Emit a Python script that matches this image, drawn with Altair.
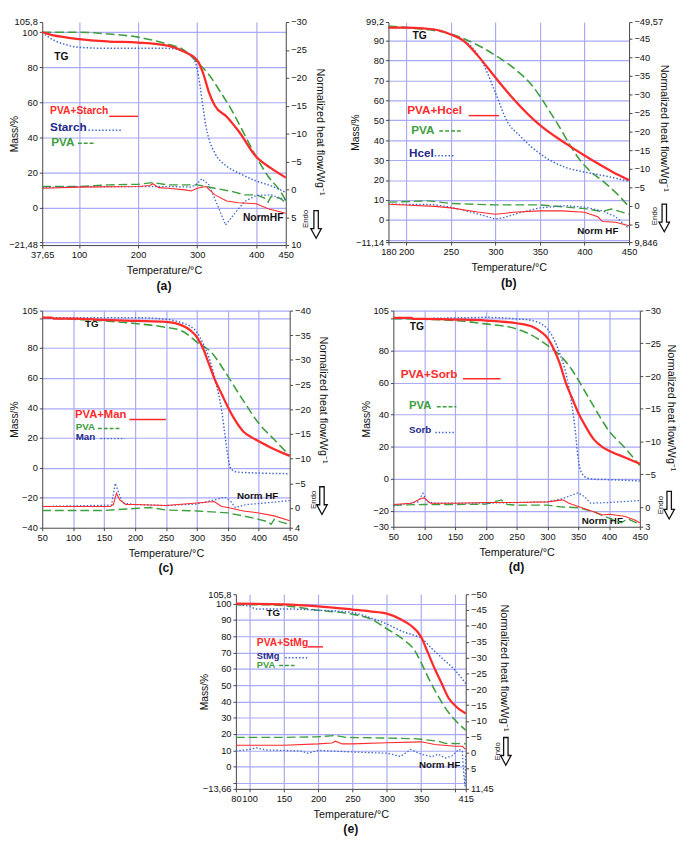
import altair as alt
import pandas as pd

# ---------------- data ----------------
# (a) PVA+Starch / Starch / PVA
A_RED_T = [37.65, 50, 57, 75, 100, 150, 200, 250, 280, 300, 310, 320, 330, 350, 370, 400, 425, 450]
A_RED_M = [100, 98.8, 98.2, 97.2, 96, 94.7, 94.1, 92.3, 88.6, 84, 76.7, 65.6, 58, 51.8, 43.6, 28.9, 22.4, 17]
A_BLUE_T = [37.65, 45, 50, 60, 75, 100, 150, 200, 250, 275, 290, 295, 300, 305, 310, 315, 320, 330, 350, 370, 400, 425, 450]
A_BLUE_M = [100, 98, 96.9, 95, 93.2, 91.4, 90.8, 90.8, 90.8, 89.5, 86.8, 84.5, 79, 69, 57, 46, 39, 31, 23.5, 19.7, 15.1, 12.3, 8.6]
A_GREEN_T = [37.65, 100, 150, 200, 250, 275, 300, 320, 340, 360, 380, 400, 420, 440, 450]
A_GREEN_M = [100, 100, 99, 97.2, 93.2, 90.4, 83, 75.7, 65.6, 54.6, 41.7, 28.9, 17.8, 9.6, 4]
A_RED_HF_T = [37.65, 100, 200, 220, 225, 235, 250, 280, 290, 300, 315, 330, 350, 370, 400, 420, 450]
A_RED_HF = [-0.2, -0.4, -0.5, -0.7, -1.0, -0.3, -0.2, 0.1, 0.3, -0.2, -0.5, 1.0, 2.1, 2.4, 2.6, 3.5, 4.3]
A_BLUE_HF_T = [37.65, 100, 200, 250, 290, 300, 308, 320, 335, 348, 360, 380, 400, 425, 450]
A_BLUE_HF = [-0.3, -0.5, -0.5, -0.5, -0.4, -1.0, -1.9, -0.8, 3.0, 6.4, 4.8, 2.2, 1.1, 1.0, 1.9]
A_GREEN_HF_T = [37.65, 100, 150, 200, 225, 250, 300, 330, 360, 380, 400, 415, 420, 425, 440, 450]
A_GREEN_HF = [-0.5, -0.5, -0.8, -0.9, -1.2, -0.8, -0.8, -0.2, 0.4, 1.0, 1.0, 1.6, 2.3, 1.3, 1.6, 2.4]

# (b) PVA+Hcel / Hcel / PVA
B_RED_T = [180, 200, 230, 250, 265, 280, 300, 320, 350, 380, 400, 416, 431, 450]
B_RED_M = [96.4, 96.4, 95.6, 93.0, 89.5, 82.5, 71.4, 60.8, 47.5, 38, 32.3, 28, 24.2, 20]
B_BLUE_T = [180, 200, 230, 250, 262, 273, 287, 300, 313, 328, 350, 379, 400, 427, 450]
B_BLUE_M = [96.4, 96.4, 95.6, 93.0, 90.5, 86.9, 77.6, 63.8, 49.6, 41.9, 33.2, 26.3, 24, 21.7, 19.3]
B_GREEN_T = [180, 200, 250, 275, 300, 325, 340, 350, 360, 372, 383, 394, 405, 423, 438, 450]
B_GREEN_M = [97.2, 96.4, 93.2, 88.8, 82.5, 74.5, 68, 62, 55, 46.5, 38, 30.5, 25, 18.6, 12.4, 6.5]
B_RED_HF_T = [180, 232, 250, 280, 300, 320, 350, 375, 400, 415, 420, 435, 450]
B_RED_HF = [-0.4, 0.2, 0.6, 1.7, 2.3, 1.8, 1.4, 1.4, 1.8, 3.0, 4.3, 4.5, 5.4]
B_BLUE_HF_T = [180, 230, 250, 280, 300, 310, 330, 350, 379, 400, 420, 435, 450]
B_BLUE_HF = [-0.4, -0.3, 0.4, 2.2, 3.6, 3.2, 1.7, 0.6, 0.0, 0.4, 1.4, 3.0, 6.2]
B_GREEN_HF_T = [180, 225, 250, 300, 350, 375, 400, 420, 430, 450]
B_GREEN_HF = [-0.95, -1.3, -0.6, -0.2, -0.2, 0.3, 0.8, 1.6, 0.9, 2.3]

# (c) PVA+Man / Man / PVA
C_RED_T = [50, 65, 70, 100, 150, 200, 250, 275, 290, 300, 310, 320, 330, 340, 350, 360, 375, 390, 400, 425, 450]
C_RED_M = [100.3, 100.3, 99.6, 99.6, 98.8, 98.1, 97.5, 95.3, 91.6, 87.3, 79.7, 68.8, 58, 49.3, 40.6, 33, 24.3, 20, 17.8, 12.4, 8]
C_BLUE_T = [50, 100, 150, 200, 250, 275, 290, 300, 310, 320, 330, 340, 345, 350, 355, 365, 400, 450]
C_BLUE_M = [100.3, 100.3, 100.3, 100.3, 99.2, 97, 94.4, 90.5, 82.9, 73.1, 58, 38.4, 23.2, 8, -0.7, -2.8, -3.5, -3.9]
C_GREEN_T = [50, 100, 150, 200, 250, 275, 300, 325, 340, 350, 375, 400, 425, 450]
C_GREEN_M = [100.3, 99.2, 98.1, 96.4, 93.8, 91.6, 84, 76.4, 67.7, 61.2, 44.9, 29.7, 18.9, 8]
C_RED_HF_T = [50, 160, 165, 170, 175, 185, 200, 250, 300, 328, 340, 350, 375, 400, 425, 450]
C_RED_HF = [-0.3, -0.3, -0.7, -3.0, -1.7, -0.7, -0.7, -0.5, -1.0, -1.3, -0.3, -0.1, 0.6, 1.0, 1.6, 2.6]
C_BLUE_HF_T = [50, 162, 168, 172, 180, 200, 250, 300, 330, 345, 355, 362, 380, 400, 450]
C_BLUE_HF = [-0.3, -0.6, -5.0, -3.6, -1.0, -0.7, -0.5, -0.8, -1.7, -2.2, -1.3, -0.1, -0.7, -0.9, -1.5]
C_GREEN_HF_T = [50, 150, 200, 225, 250, 300, 350, 375, 400, 415, 420, 425, 435, 450]
C_GREEN_HF = [0.5, 0.5, 0.1, -0.1, 0.4, 0.6, 1.0, 1.6, 2.3, 2.8, 3.3, 2.3, 2.8, 3.3]

# (d) PVA+Sorb / Sorb / PVA
D_RED_T = [50, 80, 82, 100, 150, 200, 250, 275, 290, 300, 310, 320, 330, 340, 350, 360, 375, 390, 400, 425, 450]
D_RED_M = [100.4, 100.4, 99.8, 99.8, 99.4, 98.8, 97.1, 95.1, 91.6, 88, 81.3, 72, 59.7, 50.4, 41.2, 34, 24.7, 19.6, 17.5, 13.4, 9.3]
D_BLUE_T = [115, 150, 200, 250, 275, 290, 300, 310, 320, 330, 340, 345, 350, 355, 365, 380, 400, 450]
D_BLUE_M = [100.2, 100.4, 100.8, 99.8, 98.8, 96.7, 93.6, 87.5, 78.2, 65.9, 45.3, 30.9, 12.3, 4.1, 0.4, -0.4, -0.6, -1.4]
D_GREEN_T = [50, 100, 150, 200, 250, 275, 300, 320, 340, 350, 375, 400, 425, 450]
D_GREEN_M = [100, 99.6, 98.8, 96.7, 93.6, 89.5, 83.3, 77.2, 67.9, 61.7, 45.3, 29.8, 19.6, 8.2]
D_RED_HF_T = [50, 80, 95, 100, 110, 150, 200, 250, 300, 325, 335, 350, 375, 390, 400, 425, 440, 450]
D_RED_HF = [-0.4, -0.6, -1.3, -1.4, -0.6, -0.6, -0.7, -0.7, -0.8, -1.1, -0.6, -0.1, 0.7, 1.2, 1.1, 1.4, 1.9, 2.4]
D_BLUE_HF_T = [50, 90, 98, 105, 120, 200, 300, 325, 350, 360, 370, 400, 450]
D_BLUE_HF = [-0.2, -0.8, -2.1, -0.8, -0.6, -0.6, -0.8, -1.3, -2.2, -1.6, -0.6, -0.7, -1.0]
D_GREEN_HF_T = [50, 100, 150, 200, 225, 235, 250, 300, 320, 350, 375, 400, 420, 430, 450]
D_GREEN_HF = [-0.3, -0.4, -0.4, -0.45, -1.1, -0.4, -0.3, -0.3, -0.05, 0.1, 0.7, 1.7, 2.4, 1.8, 2.6]

# (e) PVA+StMg / StMg / PVA
E_RED_T = [80, 150, 200, 250, 275, 300, 320, 335, 350, 360, 370, 380, 390, 400, 415]
E_RED_M = [100, 99.6, 98.4, 96.4, 95.3, 93.9, 90.5, 86.6, 79.6, 69.8, 59.9, 51, 42.1, 37.2, 32.6]
E_BLUE_T = [80, 100, 110, 150, 200, 250, 275, 300, 325, 340, 350, 365, 380, 400, 415]
E_BLUE_M = [99.4, 98.4, 96.8, 96.8, 96, 94.5, 91.5, 87.5, 82.6, 80.6, 79, 72.7, 66.8, 58.9, 51]
E_GREEN_T = [80, 125, 150, 200, 225, 250, 275, 300, 325, 340, 350, 360, 375, 390, 400, 415]
E_GREEN_M = [99.4, 99.4, 98.8, 96, 95, 93.5, 90.9, 84.6, 77.7, 71.7, 63.8, 54.9, 43.1, 33.2, 28.3, 22.3]
E_RED_HF_T = [80, 150, 200, 220, 225, 235, 250, 300, 350, 370, 400, 410, 415]
E_RED_HF = [-2.35, -2.35, -2.75, -3.05, -3.6, -2.75, -2.75, -3.1, -3.4, -2.55, -2.0, -2.0, -1.0]
E_BLUE_HF_T = [80, 100, 110, 125, 150, 175, 185, 200, 250, 300, 320, 335, 350, 365, 375, 385, 395, 405, 410, 412, 414, 415]
E_BLUE_HF = [-0.5, -1.0, -1.5, -0.8, -0.7, -0.5, 0.2, -0.7, -0.2, 0.2, 1.2, -1.0, 0.5, 1.3, 0.5, 1.7, 1.0, -1.0, -0.5, 6.6, 10.7, 1.0]
E_GREEN_HF_T = [80, 150, 200, 225, 240, 300, 340, 350, 375, 385, 415]
E_GREEN_HF = [-4.8, -4.8, -5.0, -5.4, -4.8, -4.6, -4.4, -4.2, -3.6, -2.9, -2.8]

# ---------------- styling ----------------
FONT = "Liberation Sans"
RED = "#ff2b2b"
GREEN = "#3d9e3d"
BLUE = "#3d66cc"
NAVY = "#22288a"
GRID = "#a9a9f6"
AXC = "#444444"
# hollow "Endo" arrow drawn oversize in symbol units so its layout box stays small
ARROW = "M-0.48,-3L0.48,-3L0.48,0.9L1.14,0.9L0,3L-1.14,0.9L-0.48,0.9Z"


def arr(vals):
    return "[" + ",".join(repr(float(v)) for v in vals) + "]"


def fmt(labels):
    return f"indexof({arr(labels)}, datum.value) >= 0 ? replace(format(datum.value, ''), '.', ',') : ''"


def gridop(grid):
    return {"condition": {"test": f"indexof({arr(grid)}, datum.value) >= 0", "value": 1}, "value": 0}


def axis(**kw):
    base = dict(labelFont=FONT, titleFont=FONT, labelFontSize=9.5, labelColor="#111",
                titleColor="#111", titleFontWeight="normal", tickSize=3, tickColor=AXC,
                domainColor=AXC, labelPadding=2, labelFlush=False, labelOverlap=False,
                gridColor=GRID, gridWidth=1.2)
    base.update(kw)
    return alt.Axis(**base)


def panel(P, tg, hf, notes, rules, endo):
    xv = sorted(set(P["xlab"]) | set(P["xgrid"]))
    yv = sorted(set(P["ylab"]) | set(P["ygrid"]))
    xax = axis(values=xv, labelExpr=fmt(P["xlab"]), grid=True, gridOpacity=gridop(P["xgrid"]),
               title="Temperature/°C", titleFontSize=11, titlePadding=6)
    lax = axis(orient="left", values=yv, labelExpr=fmt(P["ylab"]), grid=True,
               gridOpacity=gridop(P["ygrid"]), title="Mass/%", titleFontSize=10.5, titleX=P["ltx"])
    rax = axis(orient="right", values=P["rlab"], labelExpr=fmt(P["rlab"]), grid=False,
               title="Normalized heat flow/Wg⁻¹", titleFontSize=11, titleX=P["rtx"], titleY=P["rty"])
    X = alt.X("T:Q", scale=alt.Scale(domain=P["xdom"], nice=False, zero=False), axis=xax)
    YL = alt.Y("M:Q", scale=alt.Scale(domain=P["ydom"], nice=False, zero=False), axis=lax)
    YR = alt.Y("H:Q", scale=alt.Scale(domain=P["rdom"], reverse=True, nice=False, zero=False), axis=rax)

    styles = {"green": dict(color=GREEN, strokeDash=[9, 4]),
              "blue": dict(color=BLUE, strokeDash=[1.5, 2]),
              "red": dict(color=RED)}
    tgw = {"green": 1.6, "blue": 1.5, "red": 2.3}
    hfw = {"green": 1.4, "blue": 1.3, "red": 1.1}

    left = []
    for key in ["green", "blue", "red"]:
        T, V = tg[key]
        left.append(alt.Chart(pd.DataFrame({"T": T, "M": V})).mark_line(
            strokeWidth=tgw[key], interpolate="monotone", **styles[key]).encode(x=X, y=YL))
    for (t1, t2, m, key) in rules:
        st = dict(styles[key])
        if key == "green":
            st["strokeDash"] = [4, 2]
        left.append(alt.Chart(pd.DataFrame({"T": [t1], "T2": [t2], "M": [m]})).mark_rule(
            strokeWidth=1.5, **st).encode(x=X, x2=alt.X2("T2"), y=YL))
    for (txt, t, m, color, size, align) in notes:
        left.append(alt.Chart(pd.DataFrame({"T": [t], "M": [m]})).mark_text(
            text=txt, font=FONT, fontWeight="bold", fontSize=size, color=color,
            align=align, baseline="middle").encode(x=X, y=YL))

    right = []
    for key in ["green", "blue", "red"]:
        T, V = hf[key]
        right.append(alt.Chart(pd.DataFrame({"T": T, "H": V})).mark_line(
            strokeWidth=hfw[key], **styles[key]).encode(x=X, y=YR))
    (ex, ey, ax_, ay) = endo
    right.append(alt.Chart(pd.DataFrame({"T": [P["xdom"][1]], "H": [ey]})).mark_text(
        text="Endo", font=FONT, fontSize=8, angle=270, color="#111", baseline="middle",
        align="center").encode(x=alt.value(P["w"] + ex), y=YR))
    right.append(alt.Chart(pd.DataFrame({"T": [P["xdom"][1]], "H": [ay]})).mark_point(
        shape=ARROW, filled=False, stroke="#111", strokeWidth=1.3, size=89, opacity=1).encode(
        x=alt.value(P["w"] + ax_), y=YR))

    return alt.layer(alt.layer(*left), alt.layer(*right)).resolve_scale(y="independent").properties(
        width=P["w"], height=P["h"],
        title=alt.TitleParams(P["title"], orient="bottom", fontSize=12.5, fontWeight="bold",
                              font=FONT, offset=4, anchor="middle", color="#111"))


PA = dict(w=249, h=228, xdom=[37.65, 450], xlab=[37.65, 100, 200, 300, 400, 450], xgrid=[100, 200, 300, 400],
          ydom=[-21.48, 105.8], ylab=[105.8, 100, 80, 60, 40, 20, 0, -21.48], ygrid=[100, 80, 60, 40, 20, 0, -20],
          rdom=[-30, 10], rlab=[-30, -25, -20, -15, -10, -5, 0, 5, 10], ltx=-23, rtx=29, rty=112, title="(a)")
PB = dict(w=246, h=225, xdom=[180, 450], xlab=[180, 200, 250, 300, 350, 400, 450], xgrid=[200, 250, 300, 350, 400],
          ydom=[-11.14, 99.2], ylab=[99.2, 90, 80, 70, 60, 50, 40, 30, 20, 10, 0, -11.14],
          ygrid=[90, 80, 70, 60, 50, 40, 30, 20, 10, 0, -10],
          rdom=[-49.57, 9.846], rlab=[-49.57, -45, -40, -35, -30, -25, -20, -15, -10, -5, 0, 5, 9.846],
          ltx=-29, rtx=30, rty=108, title="(b)")
PC = dict(w=253, h=222, xdom=[50, 450], xlab=[50, 100, 150, 200, 250, 300, 350, 400, 450],
          xgrid=[100, 150, 200, 250, 300, 350, 400],
          ydom=[-40, 105], ylab=[105, 80, 60, 40, 20, 0, -20, -40], ygrid=[105, 100, 80, 60, 40, 20, 0, -20],
          rdom=[-40, 4], rlab=[-40, -35, -30, -25, -20, -15, -10, -5, 0, 4], ltx=-23, rtx=28, rty=91, title="(c)")
PD = dict(w=252, h=221, xdom=[50, 450], xlab=[50, 100, 150, 200, 250, 300, 350, 400, 450],
          xgrid=[100, 150, 200, 250, 300, 350, 400],
          ydom=[-30, 105], ylab=[105, 80, 60, 40, 20, 0, -20, -30], ygrid=[105, 100, 80, 60, 40, 20, 0, -20],
          rdom=[-30, 3], rlab=[-30, -25, -20, -15, -10, -5, 0, 3], ltx=-22, rtx=26, rty=99, title="(d)")
PE = dict(w=235, h=199, xdom=[80, 415], xlab=[80, 100, 150, 200, 250, 300, 350, 415],
          xgrid=[100, 150, 200, 250, 300, 350, 400],
          ydom=[-13.66, 105.8], ylab=[105.8, 100, 90, 80, 70, 60, 50, 40, 30, 20, 10, 0, -13.66],
          ygrid=[100, 90, 80, 70, 60, 50, 40, 30, 20, 10, 0, -10],
          rdom=[-50, 11.45], rlab=[-50, -45, -40, -35, -30, -25, -20, -15, -10, -5, 0, 5, 11.45],
          ltx=-27, rtx=34, rty=75, title="(e)")

pa = panel(PA,
           {"red": (A_RED_T, A_RED_M), "blue": (A_BLUE_T, A_BLUE_M), "green": (A_GREEN_T, A_GREEN_M)},
           {"red": (A_RED_HF_T, A_RED_HF), "blue": (A_BLUE_HF_T, A_BLUE_HF), "green": (A_GREEN_HF_T, A_GREEN_HF)},
           [("TG", 70, 86, "#111", 10.5, "center"),
            ("PVA+Starch", 51, 55, RED, 10.5, "left"),
            ("Starch", 51, 46, NAVY, 12, "left"),
            ("PVA", 53, 37.5, GREEN, 12, "left"),
            ("NormHF", 446, -6, "#111", 10.5, "right")],
           [(151, 200, 52, "red"), (116, 173, 44, "blue"), (98, 128, 36.6, "green")],
           (21, 5.3, 31, 6.3))
pb = panel(PB,
           {"red": (B_RED_T, B_RED_M), "blue": (B_BLUE_T, B_BLUE_M), "green": (B_GREEN_T, B_GREEN_M)},
           {"red": (B_RED_HF_T, B_RED_HF), "blue": (B_BLUE_HF_T, B_BLUE_HF), "green": (B_GREEN_HF_T, B_GREEN_HF)},
           [("TG", 215, 92, "#111", 10.5, "center"),
            ("PVA+Hcel", 201, 55, RED, 12, "left"),
            ("PVA", 205.6, 45, GREEN, 12, "left"),
            ("Hcel", 203, 33.4, NAVY, 12, "left"),
            ("Norm HF", 438, -5.4, "#111", 10, "right")],
           [(270, 304, 52.3, "red"), (237, 262, 44.6, "green"), (232, 255, 32.2, "blue")],
           (27, 2.8, 36, 3.3))
pc = panel(PC,
           {"red": (C_RED_T, C_RED_M), "blue": (C_BLUE_T, C_BLUE_M), "green": (C_GREEN_T, C_GREEN_M)},
           {"red": (C_RED_HF_T, C_RED_HF), "blue": (C_BLUE_HF_T, C_BLUE_HF), "green": (C_GREEN_HF_T, C_GREEN_HF)},
           [("TG", 130, 96, "#111", 10, "center"),
            ("PVA+Man", 103, 35.2, RED, 11.5, "left"),
            ("PVA", 104, 27, GREEN, 10, "left"),
            ("Man", 104, 20.5, NAVY, 10, "left"),
            ("Norm HF", 431.5, -19, "#111", 10, "right")],
           [(191, 250, 32.3, "red"), (140, 176, 26.3, "green"), (144, 183.5, 19.5, "blue")],
           (25, -1.66, 33, -1.5))
pdd = panel(PD,
            {"red": (D_RED_T, D_RED_M), "blue": (D_BLUE_T, D_BLUE_M), "green": (D_GREEN_T, D_GREEN_M)},
            {"red": (D_RED_HF_T, D_RED_HF), "blue": (D_BLUE_HF_T, D_BLUE_HF), "green": (D_GREEN_HF_T, D_GREEN_HF)},
            [("TG", 88, 94.7, "#111", 10.5, "center"),
             ("PVA+Sorb", 62, 65.4, RED, 12, "left"),
             ("PVA", 75.4, 45.3, GREEN, 11.5, "left"),
             ("Sorb", 75.4, 30.5, NAVY, 10, "left"),
             ("Norm HF", 422.5, -26.3, "#111", 10, "right")],
            [(163, 224, 62.4, "red"), (120.5, 152.3, 44.9, "green"), (118, 149.6, 28.8, "blue")],
            (22, -0.3, 30, -0.3))
pe = panel(PE,
           {"red": (E_RED_T, E_RED_M), "blue": (E_BLUE_T, E_BLUE_M), "green": (E_GREEN_T, E_GREEN_M)},
           {"red": (E_RED_HF_T, E_RED_HF), "blue": (E_BLUE_HF_T, E_BLUE_HF), "green": (E_GREEN_HF_T, E_GREEN_HF)},
           [("TG", 134.5, 94, "#111", 10, "center"),
            ("PVA+StMg", 110.5, 75.7, RED, 10.5, "left"),
            ("StMg", 110.5, 67.8, NAVY, 9.5, "left"),
            ("PVA", 110.5, 62.4, GREEN, 9.5, "left"),
            ("Norm HF", 407, 1.2, "#111", 10, "right")],
           [(184.7, 207, 73.5, "red"), (152, 184.7, 66.8, "blue"), (143, 165.6, 62.1, "green")],
           (33, -0.4, 41, -0.4))

spacer = alt.Chart(pd.DataFrame({"z": [0]})).mark_point(opacity=0).encode(
    x=alt.value(0), y=alt.value(0)).properties(width=142, height=10)

row1 = alt.hconcat(pa, pb, spacing=26)
row2 = alt.hconcat(pc, pdd, spacing=33)
row3 = alt.hconcat(spacer, pe, spacing=19)

chart = alt.vconcat(alt.vconcat(row1, row2, spacing=14), row3, spacing=15).properties(
    padding={"left": 0, "top": 0, "right": 0, "bottom": 0}).configure_view(stroke=None)

chart.save("out.html", embed_options={"renderer": "svg", "actions": False})
